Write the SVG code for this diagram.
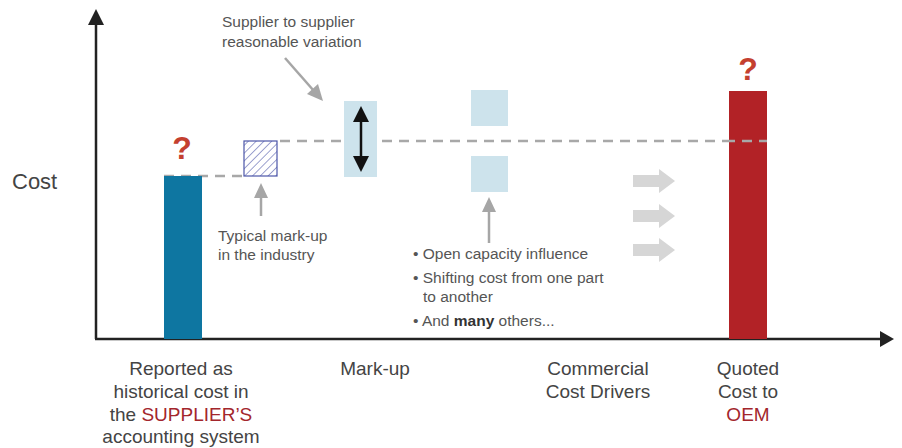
<svg xmlns="http://www.w3.org/2000/svg" width="902" height="448" viewBox="0 0 902 448">
<style>
.lbl{font-family:"Liberation Sans",Arial,sans-serif;font-size:19px;fill:#444;text-anchor:middle}
.note{font-family:"Liberation Sans",Arial,sans-serif;font-size:15.5px;fill:#555}
.red{fill:#a3262c}
.q{font-family:"Liberation Sans",Arial,sans-serif;font-size:32px;font-weight:bold;fill:#c4402f;text-anchor:middle}
.dash{stroke:#a8a8a8;stroke-width:2.5;stroke-dasharray:10 7;fill:none}
.garrow{fill:#a6a6a6}
.gline{stroke:#a6a6a6;stroke-width:2.5;fill:none}
.lb{fill:#cde3ec}
.blk{fill:#d6d6d6}
</style>
<defs>
<pattern id="hatch" width="5.5" height="5.5" patternUnits="userSpaceOnUse" patternTransform="rotate(45)">
<line x1="0" y1="0" x2="0" y2="5.5" stroke="#4b55a8" stroke-width="1.1"/>
</pattern>
</defs>
<g id="axes">
<line x1="96" y1="22" x2="96" y2="339" stroke="#222" stroke-width="2.5"/>
<polygon points="96,9 88,25 104,25" fill="#222"/>
<line x1="95" y1="339" x2="880" y2="339" stroke="#222" stroke-width="2.5"/>
<polygon points="894,339 880,331 880,347" fill="#222"/>
<text x="12" y="189" font-family="Liberation Sans,Arial,sans-serif" font-size="22" fill="#444">Cost</text>
</g>
<g id="connectors">
<line class="dash" x1="164" y1="176" x2="244" y2="176"/>
<line class="dash" x1="280" y1="141" x2="767" y2="141"/>
</g>
<g id="bar-reported">
<rect x="164" y="176" width="38" height="163" fill="#0e76a1"/>
<text class="q" x="182" y="159">?</text>
</g>
<g id="hatched-markup">
<rect x="244" y="141" width="33" height="35" fill="url(#hatch)" stroke="#4b55a8" stroke-width="1.2"/>
<line class="gline" x1="261" y1="196" x2="261" y2="216"/>
<polygon class="garrow" points="261,183 254,198 268,198"/>
<text class="note" x="218" y="241">Typical mark-up</text>
<text class="note" x="218" y="260">in the industry</text>
</g>
<g id="markup-range">
<rect class="lb" x="344" y="101" width="33" height="76"/>
<line x1="361" y1="118" x2="361" y2="160" stroke="#111" stroke-width="2.5"/>
<polygon points="361,106 353,122 369,122" fill="#111"/>
<polygon points="361,172 353,156 369,156" fill="#111"/>
<text class="note" x="222" y="27">Supplier to supplier</text>
<text class="note" x="222" y="47">reasonable variation</text>
<line class="gline" x1="285" y1="58" x2="314" y2="91"/>
<polygon class="garrow" points="323,101 307,94 318,84"/>
</g>
<g id="commercial">
<rect class="lb" x="471" y="90" width="37" height="36"/>
<rect class="lb" x="471" y="156" width="37" height="36"/>
<line class="gline" x1="489" y1="210" x2="489" y2="243"/>
<polygon class="garrow" points="489,197 482,212 496,212"/>
<text class="note" x="413" y="259">• Open capacity influence</text>
<text class="note" x="413" y="283">• Shifting cost from one part</text>
<text class="note" x="423" y="302">to another</text>
<text class="note" x="413" y="326">• And <tspan font-weight="bold" fill="#333">many</tspan> others...</text>
</g>
<g id="drivers-arrows">
<polygon class="blk" points="633,175 659,175 659,169 675,181 659,193 659,187 633,187"/>
<polygon class="blk" points="633,210 659,210 659,204 675,216 659,228 659,222 633,222"/>
<polygon class="blk" points="633,244 659,244 659,238 675,250 659,262 659,256 633,256"/>
</g>
<g id="bar-quoted">
<rect x="729" y="91" width="38" height="248" fill="#b22226"/>
<line class="dash" x1="729" y1="141" x2="767" y2="141" stroke-dashoffset="4"/>
<text class="q" x="748" y="80">?</text>
</g>
<g id="labels">
<text class="lbl" x="181" y="375">Reported as</text>
<text class="lbl" x="181" y="398">historical cost in</text>
<text class="lbl" x="181" y="421">the <tspan class="red">SUPPLIER’S</tspan></text>
<text class="lbl" x="181" y="443">accounting system</text>
<text class="lbl" x="375" y="375">Mark-up</text>
<text class="lbl" x="598" y="375">Commercial</text>
<text class="lbl" x="598" y="398">Cost Drivers</text>
<text class="lbl" x="748" y="375">Quoted</text>
<text class="lbl" x="748" y="398">Cost to</text>
<text class="lbl red" x="748" y="421">OEM</text>
</g>
</svg>
